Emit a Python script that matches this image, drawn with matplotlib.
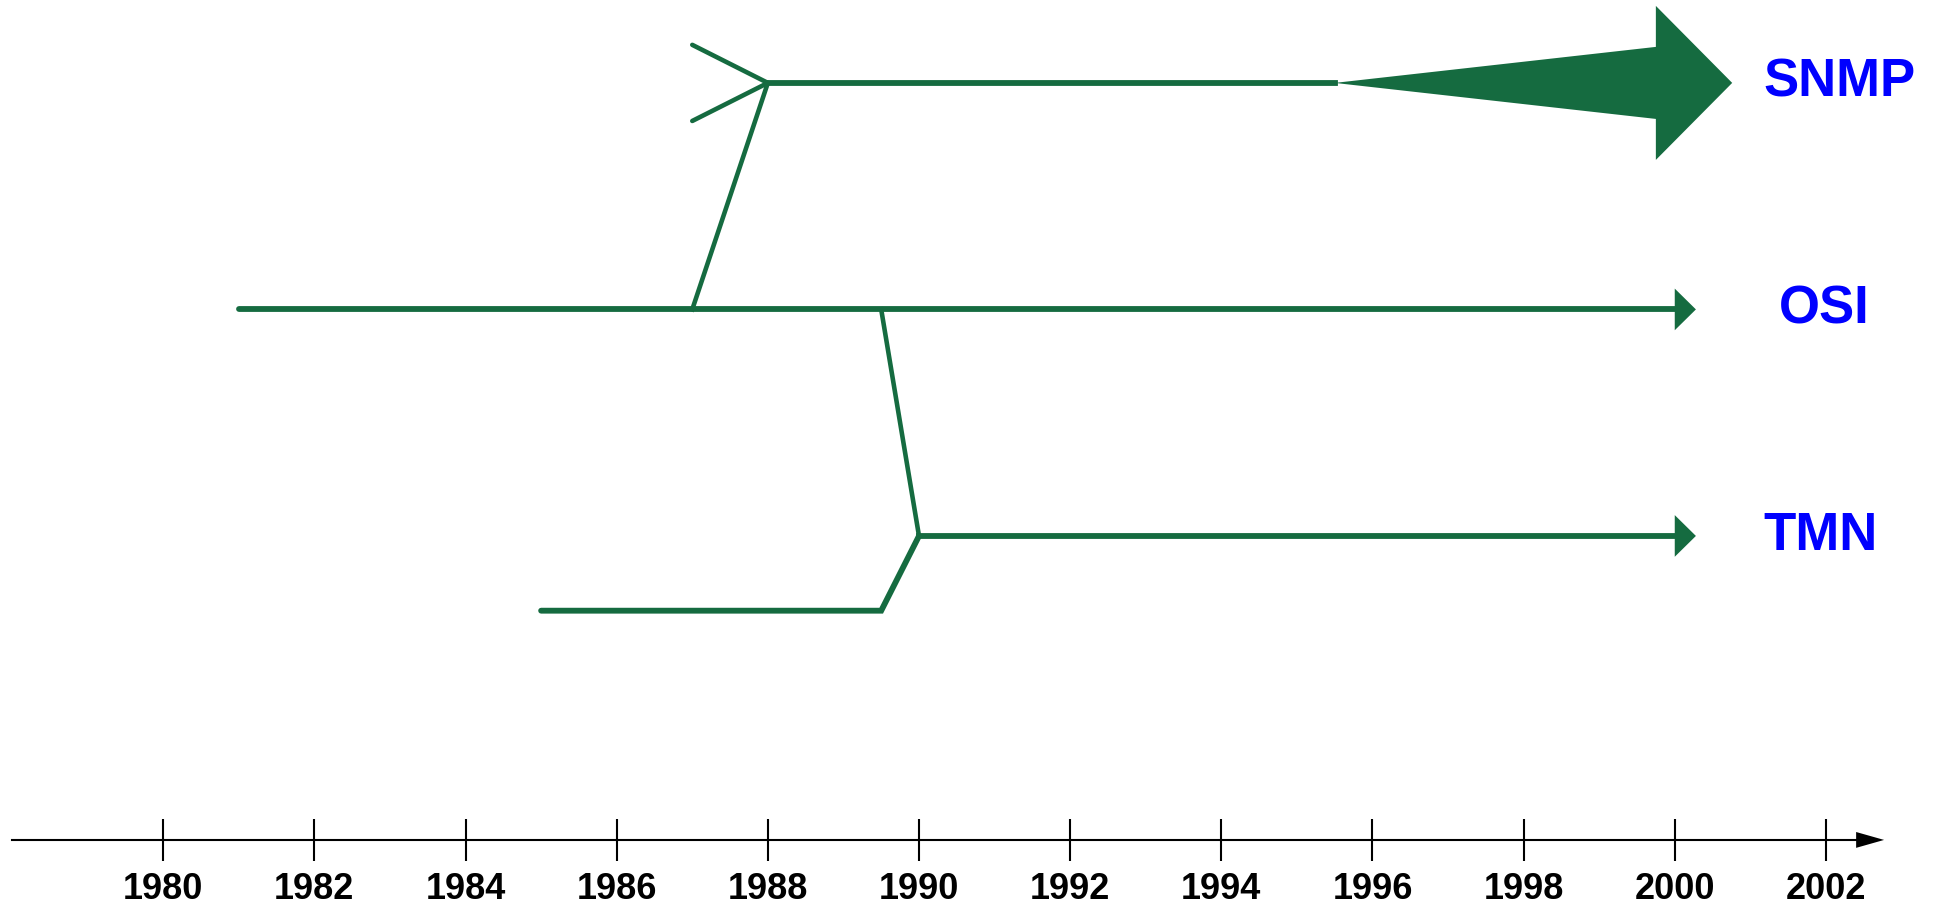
import numpy as np
import matplotlib.pyplot as plt

# 타임라인 데이터 (연도)
tick_years = list(range(1980, 2003, 2))
axis_start, axis_end = 1978.0, 2002.4

# 레인 높이 (위에서부터 SNMP, OSI, TMN)
lane_names = ['SNMP', 'OSI', 'TMN']
lane_levels = [3.0, 2.0, 1.0]
tmn_pre_level = 0.67
axis_level = -0.342

# OSI
osi_start, osi_end = 1981.0, 2000.0
# SNMP (OSI에서 갈라짐)
snmp_branch, snmp_start, snmp_taper, snmp_end = 1987.0, 1988.0, 1995.5, 1999.75
# TMN (1985년 시작, OSI와 합류)
tmn_pre_start, tmn_branch, tmn_start, tmn_end = 1985.0, 1989.5, 1990.0, 2000.0

label_x = [2001.17, 2001.38, 2001.17]

green = '#156b40'
blue = '#0000ff'
plt.rcParams['font.family'] = ['Liberation Sans', 'DejaVu Sans']
plt.rcParams['font.weight'] = 'bold'

fig = plt.figure(figsize=(19.37, 9.14), dpi=100)
ax = fig.add_axes([0, 0, 1, 1])
ax.set_xlim(1977.84, 2003.47)
ax.set_ylim(-0.669, 3.366)

y_snmp, y_osi, y_tmn = lane_levels
lw_main, lw_branch = 4.2, 3.3

def small_head(x, y):
    ax.fill([x, x, x + 0.28], [y + 0.092, y - 0.092, y], color=green, lw=0)

# OSI
ax.plot([osi_start, osi_end], [y_osi, y_osi], color=green, lw=lw_main, solid_capstyle='round')
small_head(osi_end, y_osi)

# SNMP
ax.plot([snmp_branch, snmp_start], [y_osi, y_snmp], color=green, lw=lw_branch)
ax.plot([snmp_branch, snmp_start, snmp_branch], [y_snmp + 0.168, y_snmp, y_snmp - 0.168],
        color=green, lw=lw_branch, solid_capstyle='round')
ax.plot([snmp_start, snmp_taper], [y_snmp, y_snmp], color=green, lw=lw_main)
ax.fill([snmp_taper, snmp_end, snmp_end, snmp_end + 1.01, snmp_end, snmp_end, snmp_taper],
        [y_snmp, y_snmp + 0.159, y_snmp + 0.34, y_snmp, y_snmp - 0.34, y_snmp - 0.159, y_snmp],
        color=green, lw=0)

# TMN
ax.plot([tmn_pre_start, tmn_branch, tmn_start], [tmn_pre_level, tmn_pre_level, y_tmn],
        color=green, lw=lw_main, solid_capstyle='round', solid_joinstyle='miter')
ax.plot([tmn_branch, tmn_start], [y_osi, y_tmn], color=green, lw=lw_branch)
ax.plot([tmn_start, tmn_end], [y_tmn, y_tmn], color=green, lw=lw_main)
small_head(tmn_end, y_tmn)

# 레이블
for name, lx, ly in zip(lane_names, label_x, lane_levels):
    ax.text(lx, ly, name, color=blue, fontsize=38, fontweight='bold', ha='left', va='center')

# 시간 축
for s in ['top', 'left', 'right']:
    ax.spines[s].set_visible(False)
ax.spines['bottom'].set_position(('data', axis_level))
ax.spines['bottom'].set_bounds(axis_start, axis_end)
ax.spines['bottom'].set_linewidth(1.5)
ax.set_yticks([])
ax.set_xticks(tick_years)
ax.set_xticklabels([str(y) for y in tick_years], fontsize=26, fontweight='bold')
ax.tick_params(axis='x', direction='inout', length=30, width=1.5, pad=8)
ax.fill([axis_end, axis_end, axis_end + 0.37], [axis_level + 0.035, axis_level - 0.035, axis_level],
        color='black', lw=0, clip_on=False)

fig.savefig('out.png', dpi=100)
